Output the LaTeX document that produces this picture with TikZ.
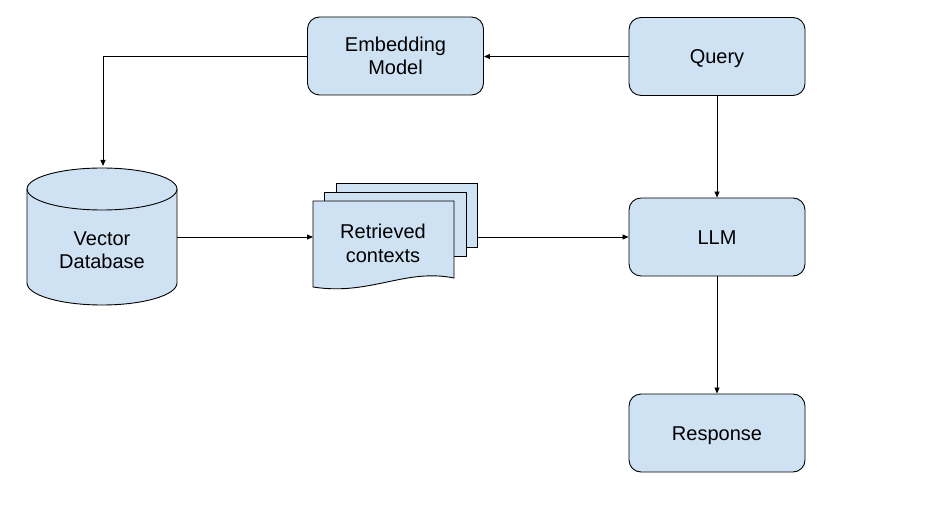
\documentclass[tikz,border=0pt]{standalone}
\usepackage{fontspec}
\setmainfont{Liberation Sans}
\usetikzlibrary{arrows.meta,positioning}
\definecolor{boxfill}{HTML}{CFE2F3}
\tikzset{
  procbox/.style={draw=black, line width=0.9pt, fill=boxfill, rounded corners=12pt,
    minimum width=176pt, minimum height=78pt, inner sep=0pt, align=center,
    text height=14.3pt, text depth=0pt,
    font=\fontsize{20}{23}\selectfont},
  lbl/.style={align=center, font=\fontsize{20}{23}\selectfont, inner sep=0pt, anchor=base},
  shapeln/.style={draw=black, line width=0.9pt, fill=boxfill},
  conn/.style={line width=0.8pt, -{Triangle[length=6pt,width=5pt]}},
}
\begin{document}
\begin{tikzpicture}[x=1pt,y=-1pt]
\useasboundingbox (0,0) rectangle (933,510);
% boxes
\node[procbox, text height=0pt] (emb) at (395.5,56) {};
\node[lbl] (embtxt) at (395.5,52) {Embedding};
\node[lbl] (embtxt2) at (395.5,75) {Model};
\node[procbox] (query) at (717,56.5) {Query};
\node[procbox] (llm) at (717,237) {LLM};
\node[procbox] (resp) at (717,433) {Response};
% cylinder (vector database)
\path[shapeln] (27,189) -- (27,283) arc[start angle=180,end angle=0,x radius=75,y radius=22]
  -- (177,189) arc[start angle=0,end angle=-180,x radius=75,y radius=21] -- cycle;
\draw[line width=0.9pt] (27,189) arc[start angle=180,end angle=0,x radius=75,y radius=21];
\node[inner sep=0pt, minimum width=150pt, minimum height=137pt] (vdb) at (102,236.5) {};
\node[lbl] (vdbtxt) at (102,245.5) {Vector};
\node[lbl] (vdbtxt2) at (102,268.5) {Database};
% document stack (retrieved contexts)
\path[shapeln] (336,183) rectangle (477,247);
\path[shapeln] (324,192) rectangle (466,256);
\path[shapeln] (313,201) -- (454,201) -- (454,278)
  .. controls (405,268) and (370,296) .. (313,287) -- cycle;
\node[inner sep=0pt, minimum width=164pt, minimum height=80pt] (docs) at (395,237) {};
\node[lbl] (docstxt) at (383,238.5) {Retrieved};
\node[lbl] (docstxt2) at (383,262) {contexts};
% corner coordinate
\coordinate (bend) at (103,56);
% connectors
\draw[conn] (query.west) -- (emb.east |- query.west);
\draw[conn] (emb.west) -- (bend) -- (103,166);
\draw[conn] (177,237) -- (313,237);
\draw[conn] (477,237) -- (llm.west);
\draw[conn] (query.south) -- (llm.north);
\draw[conn] (llm.south) -- (resp.north);
\end{tikzpicture}
\end{document}
